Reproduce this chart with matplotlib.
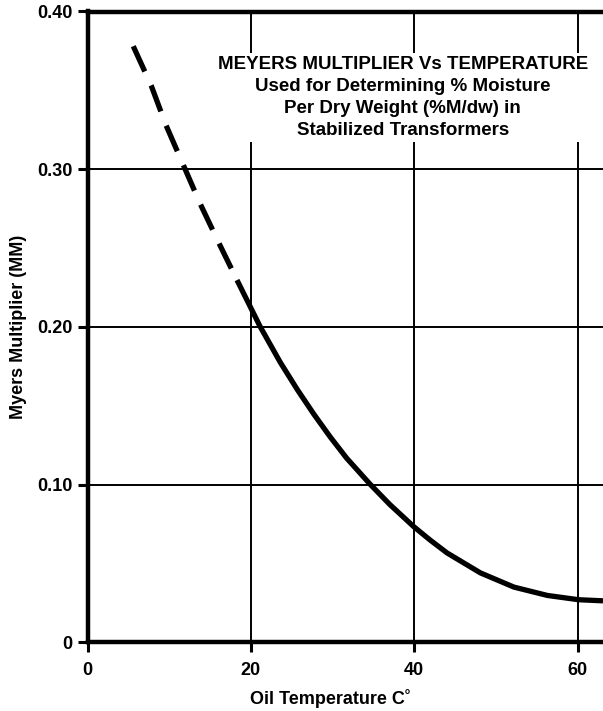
import matplotlib
matplotlib.use("Agg")
import matplotlib.pyplot as plt

plt.rcParams['font.family'] = ['Liberation Sans', 'DejaVu Sans']
plt.rcParams['font.weight'] = 'bold'
plt.rcParams['lines.scale_dashes'] = False

# Dashed (extrapolated) portion of the curve
dash_temp = [5.6, 7.8, 9.6, 11.7, 13.8, 16.1, 18.3]
dash_mm = [0.378, 0.353, 0.328, 0.303, 0.278, 0.253, 0.2297]

# Solid portion of the curve
solid_temp = [18.3, 21.1, 23.6, 25.7, 27.7, 29.7, 31.7, 34.6, 37.0, 39.9,
              41.9, 44.0, 48.1, 52.2, 56.3, 60.1, 63.1]
solid_mm = [0.2297, 0.2005, 0.1775, 0.1601, 0.1447, 0.1303, 0.1169, 0.1002,
            0.0874, 0.0735, 0.0650, 0.0567, 0.0440, 0.0350, 0.0297, 0.0270, 0.0263]

x_ticks = [0, 20, 40, 60]
x_tick_labels = ["0", "20", "40", "60"]
y_ticks = [0, 0.10, 0.20, 0.30, 0.40]
y_tick_labels = ["0", "0.10", "0.20", "0.30", "0.40"]

title_lines = ("MEYERS MULTIPLIER Vs TEMPERATURE\n"
               "Used for Determining % Moisture\n"
               "Per Dry Weight (%M/dw) in\n"
               "Stabilized Transformers")

fig = plt.figure(figsize=(6.03, 7.11), dpi=100)
ax = fig.add_axes([87.5/603, 1 - 642.3/711, 1 - 87.5/603, (642.3 - 11.5)/711])

ax.set_xlim(0, 63.1)
ax.set_ylim(0, 0.40)

ax.set_xticks(x_ticks)
ax.set_xticklabels(x_tick_labels)
ax.set_yticks(y_ticks)
ax.set_yticklabels(y_tick_labels)

ax.grid(True, color='black', linewidth=1.4)
ax.set_axisbelow(True)

for s in ['left', 'bottom', 'top']:
    ax.spines[s].set_linewidth(3.2)
    ax.spines[s].set_color('black')
ax.spines['right'].set_visible(False)

ax.tick_params(axis='both', direction='out', length=7.5, width=2.2, labelsize=13,
               colors='black')
ax.tick_params(axis='y', pad=3.5)
ax.tick_params(axis='x', pad=7)

ax.plot(dash_temp, dash_mm, color='black', linewidth=3.8, dashes=(20, 11),
        dash_capstyle='butt', dash_joinstyle='round', zorder=3)
ax.plot(solid_temp, solid_mm, color='black', linewidth=3.8,
        solid_capstyle='butt', solid_joinstyle='round', zorder=3)

ax.text(38.6, 0.3455, title_lines, ha='center', va='center', fontsize=13.5,
        fontweight='bold', linespacing=1.38, zorder=4,
        bbox=dict(facecolor='white', edgecolor='none', pad=2))

ax.set_xlabel("Oil Temperature C˚", fontsize=13, fontweight='bold')
ax.xaxis.set_label_coords(0.472, -0.074)
ax.set_ylabel("Myers Multiplier (MM)", fontsize=13, fontweight='bold', labelpad=7)

fig.savefig("out.png", dpi=100)
